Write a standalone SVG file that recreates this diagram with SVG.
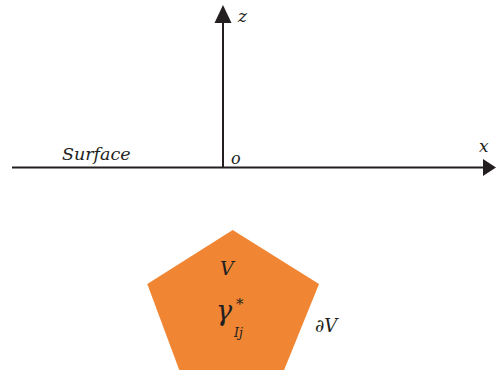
<svg xmlns="http://www.w3.org/2000/svg" width="496" height="370" viewBox="0 0 496 370">
<style>
.ax{stroke:#231f20;stroke-width:2;fill:none}
.t{font-family:'DejaVu Serif','Liberation Serif',serif;font-style:italic;fill:#231f20}
</style>
<rect width="496" height="370" fill="#fff"/>
<g id="connectors">
<line class="ax" x1="12" y1="167.5" x2="484" y2="167.5"/>
<polygon points="496,167.5 483,159 483,176" fill="#231f20"/>
<line class="ax" x1="223" y1="167.5" x2="223" y2="22"/>
<polygon points="223,5 214.5,23 231.5,23" fill="#231f20"/>
</g>
<g id="labels">
<text class="t" x="238" y="22" font-size="17">z</text>
<text class="t" x="62" y="160" font-size="17.5">Surface</text>
<text class="t" x="231" y="164" font-size="16">o</text>
<text class="t" x="479" y="152" font-size="17">x</text>
</g>
<g id="volume">
<polygon points="232.7,230 319,284 283.3,372 180,372 147.3,284" fill="#f08533"/>
<text class="t" x="220" y="275" font-size="19">V</text>
<text class="t" x="216" y="320" font-size="27">γ</text>
<text class="t" x="236" y="309" font-size="15">*</text>
<text class="t" x="234" y="337" font-size="12.5">Ij</text>
</g>
<g id="boundary">
<text class="t" x="315" y="332" font-size="18">∂V</text>
</g>
</svg>
